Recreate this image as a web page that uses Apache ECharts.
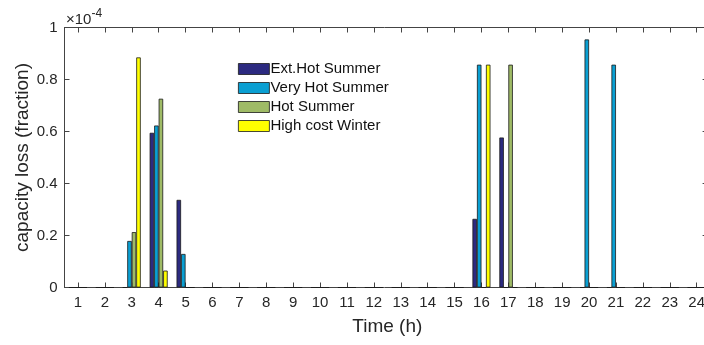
<!DOCTYPE html>
<html>
<head>
<meta charset="utf-8">
<script src="https://cdn.jsdelivr.net/npm/echarts@6/dist/echarts.min.js"></script>
<style>
html,body{margin:0;padding:0;background:#fff;}
#chart{width:704px;height:345px;}
</style>
</head>
<body>
<div id="chart"></div>
<script>
// Hours 1..24
var hours = [1,2,3,4,5,6,7,8,9,10,11,12,13,14,15,16,17,18,19,20,21,22,23,24];
// capacity loss values, in units of 1e-4
var extHotSummer  = [0,0,0,0.595,0.337,0,0,0,0,0,0,0,0,0,0,0.264,0.577,0,0,0,0,0,0,0];
var veryHotSummer = [0,0,0.179,0.623,0.129,0,0,0,0,0,0,0,0,0,0,0.857,0,0,0,0.954,0.857,0,0,0];
var hotSummer     = [0,0,0.213,0.726,0,0,0,0,0,0,0,0,0,0,0,0,0.857,0,0,0,0,0,0,0];
var highCostWinter= [0,0,0.885,0.065,0,0,0,0,0,0,0,0,0,0,0,0.857,0,0,0,0,0,0,0,0];
var seriesNames = ['Ext.Hot Summer','Very Hot Summer','Hot Summer','High cost Winter'];
var yTicks = [0,0.2,0.4,0.6,0.8,1];

var colors = ['#2C2A80','#0A9FD2','#9FBB66','#FFFF00'];
var font = 'Liberation Sans, Arial, Helvetica, sans-serif';
var axisColor = '#444';
var chart = echarts.init(document.getElementById('chart'), null, {renderer:'canvas'});

function mk(name, vals, i){
  return {
    name: name, type:'bar',
    data: hours.map(function(h, k){ return [h, vals[k]]; }),
    xAxisIndex:0, yAxisIndex:0,
    barWidth: 4.5, barGap: '0%',
    itemStyle:{color: colors[i], borderColor:'#1a1a1a', borderWidth:0.8},
    emphasis:{disabled:true}, animation:false
  };
}
var xMin = 0.5, xMax = 24.5;

chart.setOption({
  animation:false,
  textStyle:{fontFamily:font},
  grid:{left:64.5, top:27.5, width:645.6, height:260, containLabel:false, outerBoundsMode:'none'},
  legend:{
    data: seriesNames,
    orient:'vertical', left:238, top:61.5, padding:0,
    itemWidth:31, itemHeight:11, itemGap:4,
    icon:'rect',
    textStyle:{fontFamily:font, fontSize:15, color:'#111', padding:[0,0,0,-4], lineHeight:15},
    itemStyle:{borderColor:'#1a1a1a', borderWidth:0.8},
    selectedMode:false
  },
  xAxis:[{
    type:'value', min:xMin, max:xMax, position:'bottom',
    splitLine:{show:false},
    axisLine:{show:true, onZero:false, lineStyle:{color:axisColor, width:1}},
    axisTick:{show:true, inside:true, length:5, customValues:hours, lineStyle:{color:axisColor}},
    axisLabel:{fontFamily:font, fontSize:15, color:'#262626', margin:8, customValues:hours,
      showMinLabel:true, showMaxLabel:true},
    name:'Time (h)', nameLocation:'middle', nameGap:30, nameMoveOverlap:false,
    nameTextStyle:{fontFamily:font, fontSize:19, color:'#262626'}
  },{
    type:'value', min:xMin, max:xMax, position:'top',
    splitLine:{show:false},
    axisLine:{show:true, onZero:false, lineStyle:{color:axisColor, width:1}},
    axisTick:{show:true, inside:true, length:5, customValues:hours, lineStyle:{color:axisColor}},
    axisLabel:{show:false}
  }],
  yAxis:[{
    type:'value', min:0, max:1, interval:0.2, position:'left',
    axisLine:{show:true, onZero:false, lineStyle:{color:axisColor, width:1}},
    axisTick:{show:true, inside:true, length:5, lineStyle:{color:axisColor}},
    splitLine:{show:false},
    axisLabel:{fontFamily:font, fontSize:15, color:'#262626', margin:7,
      formatter:function(v){ return String(Math.round(v*10)/10); }},
    name:'capacity loss (fraction)', nameLocation:'middle', nameGap:32, nameRotate:90,
    nameMoveOverlap:false,
    nameTextStyle:{fontFamily:font, fontSize:19, color:'#262626'}
  },{
    type:'value', min:0, max:1, interval:0.2, position:'right',
    axisLine:{show:true, lineStyle:{color:axisColor, width:1}},
    axisTick:{show:true, inside:true, length:7.5, lineStyle:{color:axisColor}},
    splitLine:{show:false},
    axisLabel:{show:false}
  }],
  series:[
    mk(seriesNames[0], extHotSummer, 0),
    mk(seriesNames[1], veryHotSummer, 1),
    mk(seriesNames[2], hotSummer, 2),
    mk(seriesNames[3], highCostWinter, 3)
  ],
  graphic:[{
    type:'text', left:66, top:8,
    style:{
      text:'{a|×10}{b|-4}',
      rich:{
        a:{fontFamily:font, fontSize:15, fill:'#262626', verticalAlign:'bottom'},
        b:{fontFamily:font, fontSize:12, fill:'#262626', verticalAlign:'top', padding:[0,0,7,0]}
      },
      fontFamily:font
    }
  }]
});
</script>
</body>
</html>
